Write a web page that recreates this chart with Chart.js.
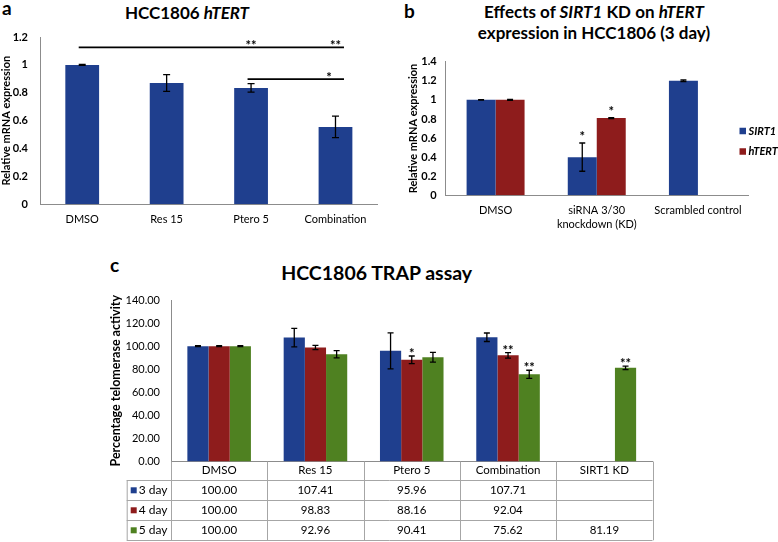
<!DOCTYPE html>
<html><head><meta charset="utf-8">
<script src="https://cdn.jsdelivr.net/npm/chart.js@4.4.0/dist/chart.umd.min.js"></script>
<style>
html,body{margin:0;padding:0;background:#fff;}
body{width:778px;height:542px;position:relative;overflow:hidden;font-family:Lato,'Open Sans',sans-serif;}
canvas{position:absolute;}
.t{position:absolute;font-weight:bold;color:#000;white-space:nowrap;text-align:center;line-height:1;}
</style></head><body>
<div class="t" style="left:2px;top:-1.9px;font-size:19px;text-align:left">a</div>
<div class="t" style="left:0;width:374px;top:4.2px;font-size:17px">HCC1806 <i>hTERT</i></div>
<div class="t" style="left:404px;top:1.4px;font-size:19px;text-align:left">b</div>
<div class="t" style="left:405px;width:378px;top:1.2px;font-size:17px;line-height:21px">Effects of <i>SIRT1</i> KD on <i>hTERT</i><br>expression in HCC1806 (3 day)</div>
<div class="t" style="left:110px;top:255.1px;font-size:19px;text-align:left">c</div>
<div class="t" style="left:0;width:753.4px;top:262.5px;font-size:19.5px">HCC1806 TRAP assay</div>
<canvas id="ca" width="390" height="240" style="left:0;top:0"></canvas>
<canvas id="cb" width="388" height="240" style="left:390px;top:0"></canvas>
<canvas id="cc" width="778" height="292" style="left:0;top:250px"></canvas>
<script>
const FONT = "Lato, 'Open Sans', sans-serif";

// ---- Panel a ----
const catsA = ['DMSO', 'Res 15', 'Ptero 5', 'Combination'];
const valsA = [1.0, 0.87, 0.835, 0.555];
const errA = [0.003, 0.06, 0.03, 0.077];
const ticksA = ['0', '0.2', '0.4', '0.6', '0.8', '1', '1.2'];
const sigLinesA = [{from: 0, to: 3, level: 1.125}, {from: 2, to: 3, level: 0.898}];
const sigMarksA = [{cat: 2, level: 1.125, text: '**'}, {cat: 3, level: 1.125, text: '**'}, {cat: 3, level: 0.898, text: '*'}];

// ---- Panel b ----
const catsB = [['DMSO'], ['siRNA 3/30', 'knockdown (KD)'], ['Scrambled control']];
const seriesB = ['SIRT1', 'hTERT'];
const sirt1B = [1.0, 0.40, 1.20];
const htertB = [1.0, 0.81, null];
const errSirt1B = [0.003, 0.148, 0.008];
const errHtertB = [0.006, 0.005, null];
const ticksB = ['0', '0.2', '0.4', '0.6', '0.8', '1', '1.2', '1.4'];
const starsB = [{series: 0, cat: 1, text: '*'}, {series: 1, cat: 1, text: '*'}];

// ---- Panel c ----
const catsC = ['DMSO', 'Res 15', 'Ptero 5', 'Combination', 'SIRT1 KD'];
const seriesC = ['3 day', '4 day', '5 day'];
const day3 = [100.00, 107.41, 95.96, 107.71, null];
const day4 = [100.00, 98.83, 88.16, 92.04, null];
const day5 = [100.00, 92.96, 90.41, 75.62, 81.19];
const err3 = [0.4, 8.0, 15.6, 3.7, null];
const err4 = [0.4, 1.9, 3.3, 2.4, null];
const err5 = [0.4, 3.2, 4.2, 3.5, 1.5];
const ticksC = ['0.00', '20.00', '40.00', '60.00', '80.00', '100.00', '120.00', '140.00'];
const starsC = [{series: 1, cat: 2, text: '*'}, {series: 1, cat: 3, text: '**'}, {series: 2, cat: 3, text: '**'}, {series: 2, cat: 4, text: '**'}];

const BLUE = '#1f3f8e', RED = '#8e1c1c', GREEN = '#4f8121', AXIS = '#8c8c8c';

const errorBars = {
  id: 'errorBars',
  afterDatasetsDraw(chart, args, o) {
    const ctx = chart.ctx, ys = chart.scales.y;
    ctx.save(); ctx.strokeStyle = '#000'; ctx.lineWidth = o.lineWidth;
    chart.data.datasets.forEach((ds, di) => {
      if (!ds.errors) return;
      chart.getDatasetMeta(di).data.forEach((bar, i) => {
        const v = ds.data[i], e = ds.errors[i];
        if (v == null || e == null) return;
        const x = bar.x, yt = ys.getPixelForValue(v + e), yb = ys.getPixelForValue(v - e), c = o.cap;
        ctx.beginPath();
        ctx.moveTo(x, yt); ctx.lineTo(x, yb);
        ctx.moveTo(x - c, yt); ctx.lineTo(x + c, yt);
        ctx.moveTo(x - c, yb); ctx.lineTo(x + c, yb);
        ctx.stroke();
      });
    });
    ctx.restore();
  }
};

const stars = {
  id: 'stars',
  afterDatasetsDraw(chart, args, o) {
    const ctx = chart.ctx, ys = chart.scales.y;
    ctx.save(); ctx.fillStyle = '#000'; ctx.font = o.font; ctx.textAlign = 'center'; ctx.textBaseline = 'alphabetic';
    (o.items || []).forEach(it => {
      const ds = chart.data.datasets[it.series];
      const bar = chart.getDatasetMeta(it.series).data[it.cat];
      const top = ys.getPixelForValue(ds.data[it.cat] + (ds.errors[it.cat] || 0));
      ctx.fillText(it.text, bar.x, top - o.gap + o.drop);
    });
    ctx.restore();
  }
};

const sigBrackets = {
  id: 'sigBrackets',
  afterDatasetsDraw(chart, args, o) {
    const ctx = chart.ctx, xs = chart.scales.x, ys = chart.scales.y;
    ctx.save(); ctx.strokeStyle = '#000'; ctx.lineWidth = o.lineWidth;
    o.lines.forEach(l => {
      const y = ys.getPixelForValue(l.level);
      ctx.beginPath();
      ctx.moveTo(xs.getPixelForValue(l.from) - o.padL, y);
      ctx.lineTo(xs.getPixelForValue(l.to) + o.padR, y);
      ctx.stroke();
    });
    ctx.fillStyle = '#000'; ctx.font = o.font; ctx.textAlign = 'center'; ctx.textBaseline = 'alphabetic';
    o.marks.forEach(m => {
      const y = ys.getPixelForValue(m.level);
      const dx = m.text === '*' ? o.singleShift : 0;
      ctx.fillText(m.text, xs.getPixelForValue(m.cat) + dx, y - o.gap + o.drop);
    });
    ctx.restore();
  }
};

const sideLegend = {
  id: 'sideLegend',
  afterDraw(chart, args, o) {
    const ctx = chart.ctx;
    ctx.save(); ctx.font = o.font; ctx.textAlign = 'left'; ctx.textBaseline = 'middle';
    chart.data.datasets.forEach((ds, i) => {
      const y = o.y + i * o.step;
      ctx.fillStyle = ds.backgroundColor;
      ctx.fillRect(o.x, y - o.box / 2, o.box, o.box);
      ctx.fillStyle = '#000';
      ctx.fillText(ds.label, o.x + o.box + o.textGap, y);
    });
    ctx.restore();
  }
};

const dataTable = {
  id: 'dataTable',
  afterDraw(chart, args, o) {
    const ctx = chart.ctx, a = chart.chartArea, n = chart.data.labels.length;
    const w = (a.right - a.left) / n;
    const top = a.bottom, hdrB = top + o.headerH, rows = chart.data.datasets.length;
    const bottom = hdrB + rows * o.rowH;
    ctx.save();
    ctx.strokeStyle = o.lineColor; ctx.lineWidth = 1;
    ctx.beginPath();
    for (let k = 0; k <= n; k++) {
      const x = Math.round(a.left + k * w) + 0.5;
      ctx.moveTo(x, top); ctx.lineTo(x, bottom);
    }
    ctx.moveTo(o.left + 0.5, hdrB); ctx.lineTo(o.left + 0.5, bottom);
    for (let r = 0; r <= rows; r++) {
      const y = Math.round(hdrB + r * o.rowH) + 0.5;
      ctx.moveTo(o.left, y); ctx.lineTo(a.right, y);
    }
    ctx.stroke();
    ctx.textBaseline = 'middle';
    chart.data.datasets.forEach((ds, r) => {
      const yc = hdrB + (r + 0.5) * o.rowH;
      ctx.fillStyle = ds.backgroundColor;
      ctx.fillRect(o.left + o.boxX, yc - o.box / 2, o.box, o.box);
      ctx.fillStyle = '#000'; ctx.font = o.labelFont; ctx.textAlign = 'left';
      ctx.fillText(ds.label, o.left + o.boxX + o.box + 2, yc);
      ctx.font = o.valueFont; ctx.textAlign = 'center';
      ds.data.forEach((v, i) => {
        if (v == null) return;
        ctx.fillText(v.toFixed(2), a.left + (i + 0.5) * w, yc);
      });
    });
    ctx.restore();
  }
};

function yAxis(min, max, step, labels, size, weight, pad, title, titleSize, titlePad, width) {
  return {
    min: min, max: max,
    ticks: {stepSize: step, callback: (v, i) => labels[i], font: {family: FONT, size: size, weight: weight}, color: '#000', padding: pad},
    grid: {display: false, drawTicks: false},
    border: {display: true, color: AXIS, width: 1},
    title: {display: true, text: title, color: '#000', font: {family: FONT, size: titleSize, weight: 'bold'}, padding: {top: titlePad, bottom: 0}},
    afterFit(s) { s.width = width; }
  };
}
function xAxis(size, pad, height, lh) {
  return {
    ticks: {font: {family: FONT, size: size, lineHeight: lh}, color: '#000', padding: pad, maxRotation: 0, autoSkip: false},
    grid: {display: false, drawTicks: false},
    border: {display: true, color: AXIS, width: 1},
    afterFit(s) { s.height = height; }
  };
}

Chart.defaults.font.family = FONT;

// Panel a chart
new Chart(document.getElementById('ca'), {
  type: 'bar',
  data: {labels: catsA, datasets: [{label: 'hTERT', data: valsA, errors: errA, backgroundColor: BLUE, categoryPercentage: 1, barPercentage: 0.4}]},
  options: {
    responsive: false, animation: false,
    layout: {padding: {top: 37, right: 12.3, bottom: 0, left: 0}},
    scales: {x: xAxis(11, 8.1, 35.7, 1.2), y: yAxis(0, 1.2, 0.2, ticksA, 11, 'bold', 12, 'Relative mRNA expression', 11, 0, 40)},
    plugins: {
      legend: {display: false}, tooltip: {enabled: false},
      errorBars: {cap: 3.5, lineWidth: 1.3},
      sigBrackets: {lines: sigLinesA, marks: sigMarksA, padL: 3.5, padR: 8.5, lineWidth: 1.8, font: 'bold 13px ' + FONT, gap: 2, drop: 5, singleShift: -6.5}
    }
  },
  plugins: [errorBars, sigBrackets]
});

// Panel b chart
new Chart(document.getElementById('cb'), {
  type: 'bar',
  data: {labels: catsB, datasets: [
    {label: seriesB[0], data: sirt1B, errors: errSirt1B, backgroundColor: BLUE, categoryPercentage: 0.573, barPercentage: 1},
    {label: seriesB[1], data: htertB, errors: errHtertB, backgroundColor: RED, categoryPercentage: 0.573, barPercentage: 1}
  ]},
  options: {
    responsive: false, animation: false,
    layout: {padding: {top: 61.7, right: 29.5, bottom: 0, left: 0}},
    scales: {x: xAxis(11, 8.6, 44.7, 1.24), y: yAxis(0, 1.4, 0.2, ticksB, 11, 'bold', 8.3, 'Relative mRNA expression', 11, 16.5, 55)},
    plugins: {
      legend: {display: false}, tooltip: {enabled: false},
      errorBars: {cap: 3, lineWidth: 1.3},
      stars: {items: starsB, font: 'bold 13px ' + FONT, gap: 7, drop: 5},
      sideLegend: {x: 349.5, y: 131, step: 20.5, box: 6.5, textGap: 2.5, font: 'italic bold 11px ' + FONT}
    }
  },
  plugins: [errorBars, stars, sideLegend]
});

// Panel c chart
new Chart(document.getElementById('cc'), {
  type: 'bar',
  data: {labels: catsC, datasets: [
    {label: seriesC[0], data: day3, errors: err3, backgroundColor: BLUE, categoryPercentage: 0.66, barPercentage: 1},
    {label: seriesC[1], data: day4, errors: err4, backgroundColor: RED, categoryPercentage: 0.66, barPercentage: 1},
    {label: seriesC[2], data: day5, errors: err5, backgroundColor: GREEN, categoryPercentage: 0.66, barPercentage: 1}
  ]},
  options: {
    responsive: false, animation: false,
    layout: {padding: {top: 50, right: 125.5, bottom: 0, left: 0}},
    scales: {x: xAxis(11.5, 1.6, 80.5, 1.2), y: yAxis(0, 140, 20, ticksC, 11, 'normal', 11, 'Percentage telomerase activity', 12.5, 108.5, 171)},
    plugins: {
      legend: {display: false}, tooltip: {enabled: false},
      errorBars: {cap: 3, lineWidth: 1.3},
      stars: {items: starsC, font: 'bold 13px ' + FONT, gap: 3, drop: 5},
      dataTable: {headerH: 18.8, rowH: 20, left: 126.7, boxX: 4, box: 6, lineColor: '#a6a6a6', labelFont: '12px ' + FONT, valueFont: '11.5px ' + FONT}
    }
  },
  plugins: [errorBars, stars, dataTable]
});
</script>
</body></html>
